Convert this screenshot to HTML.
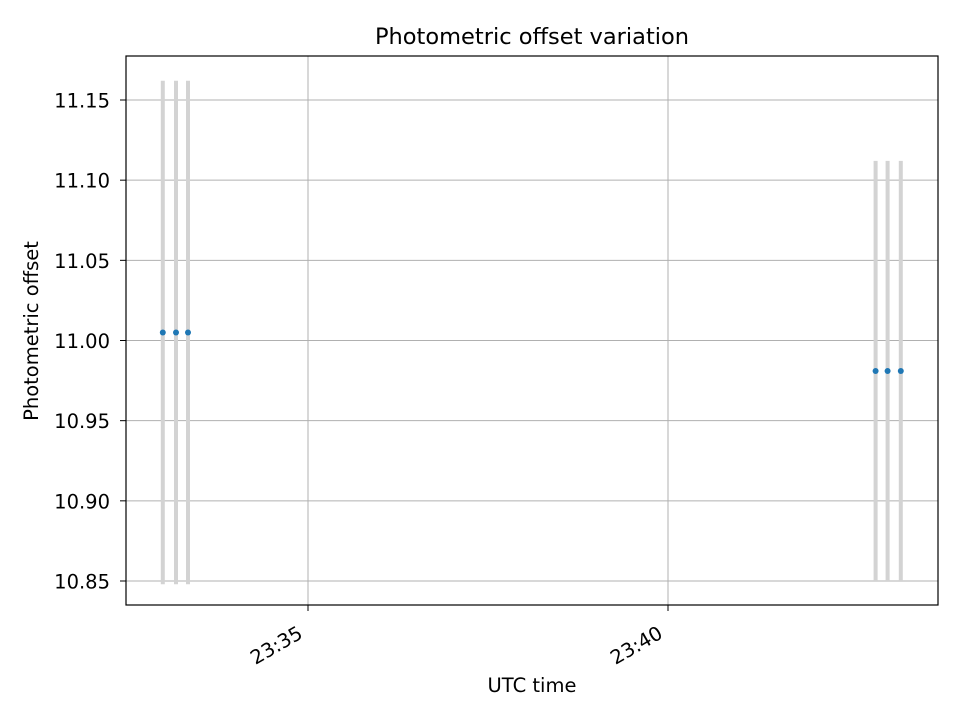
<!DOCTYPE html>
<html><head><meta charset="utf-8"><style>
body{margin:0;background:#fff;}
svg{display:block;font-family:"DejaVu Sans","Liberation Sans",sans-serif;}
</style></head><body>
<svg id="chart" width="960" height="720">
<rect width="960" height="720" fill="#fff"/>
<g id="grid"></g>
<g id="bars"></g>
<g id="pts"></g>
<rect x="126" y="56" width="812" height="549" fill="none" stroke="#000" stroke-width="1.2"/>
<g id="yt"></g><g id="xt"></g>
<text x="532" y="44" text-anchor="middle" font-size="22.5">Photometric offset variation</text>
<text x="532" y="692" text-anchor="middle" font-size="19.5">UTC time</text>
<text transform="translate(38,331) rotate(-90)" text-anchor="middle" font-size="19.5">Photometric offset</text>
</svg>
<script>
// times in seconds after 23:30:00
const times=[179,190,200,773,783,794];
const values=[11.005,11.005,11.005,10.981,10.981,10.981];
const errors=[0.157,0.157,0.157,0.131,0.131,0.131];
const yTicks=[10.85,10.90,10.95,11.00,11.05,11.10,11.15];
const xTickSecs=[300,600];
const xTickLabels=["23:35","23:40"];
const NS="http://www.w3.org/2000/svg";
const X=s=>308+(s-300)*1.2;
const Y=v=>340.5-(v-11.0)*1603.4;
function mk(p,t,a){const e=document.createElementNS(NS,t);for(const k in a)e.setAttribute(k,a[k]);document.getElementById(p).appendChild(e);return e;}
yTicks.forEach(v=>{
 let l=mk('grid','line',{x1:126,x2:938,y1:Y(v),y2:Y(v),stroke:'#b0b0b0','stroke-width':1});
 
 
 mk('yt','line',{x1:120,x2:126,y1:Y(v),y2:Y(v),stroke:'#000'});
 let t=mk('yt','text',{x:110,y:Y(v)+7.5,'text-anchor':'end','font-size':19.5});
 t.textContent=v.toFixed(2);
 
 
});
xTickSecs.forEach((s,i)=>{
 let l=mk('grid','line',{x1:X(s),x2:X(s),y1:56,y2:605,stroke:'#b0b0b0','stroke-width':1});
 
 
 mk('xt','line',{x1:X(s),x2:X(s),y1:605,y2:611,stroke:'#000'});
 let t=mk('xt','text',{x:X(s)-4,y:637,'text-anchor':'end','font-size':19.5,transform:`rotate(-30 ${X(s)-4} 637)`});
 t.textContent=xTickLabels[i];
 
 
});
times.forEach((s,i)=>{
 let b=mk('bars','line',{x1:X(s),x2:X(s),y1:Y(values[i]+errors[i]),y2:Y(values[i]-errors[i]),stroke:'#d3d3d3','stroke-width':4});
 
 
 let c=mk('pts','circle',{cx:X(s),cy:Y(values[i]),r:3,fill:'#1f77b4'});
 
 
});
</script>
</body></html>
